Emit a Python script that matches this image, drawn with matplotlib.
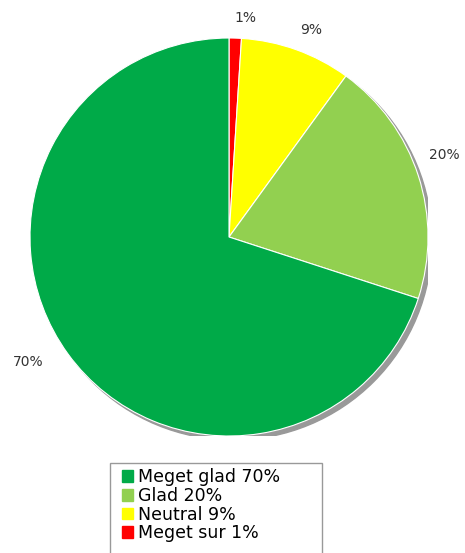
import numpy as np
import matplotlib.pyplot as plt
from matplotlib.patches import Circle, Rectangle
from matplotlib.legend_handler import HandlerPatch

labels = ['Meget glad', 'Glad', 'Neutral', 'Meget sur']
values = [70, 20, 9, 1]
colors = ['#00aa48', '#92d050', '#ffff00', '#ff0000']

fig = plt.figure(figsize=(4.65, 5.53), dpi=100)
ax = fig.add_axes([30 / 465, (553 - 436) / 553, 398 / 465, 398 / 553])

# shadow
ax.add_patch(Circle((0.02, -0.02), 1.0, color='#999999', zorder=0))

# order clockwise from top: red, yellow, light green, dark green
order = [3, 2, 1, 0]
wedges, texts = ax.pie([values[i] for i in order],
                       colors=[colors[i] for i in order],
                       labels=['%d%%' % values[i] for i in order],
                       startangle=90, counterclock=False,
                       wedgeprops=dict(edgecolor='white', linewidth=0.8),
                       textprops=dict(fontsize=10, color='#333333'))
# label placement tweaks (distance, angle shift) to follow the reference
dists = [1.105, 1.12, 1.16, 1.19]
shifts = [-2.6, -1.8, 2.8, -4.1]
for w, t, d, s in zip(wedges, texts, dists, shifts):
    w.set_zorder(1)
    ang = np.deg2rad((w.theta1 + w.theta2) / 2 + s)
    t.set_position((d * np.cos(ang), d * np.sin(ang)))
    t.set_ha('center')
    t.set_va('center')
ax.set_xlim(-1, 1)
ax.set_ylim(-1, 1)
ax.set_aspect('equal')
ax.axis('off')


def square(legend, orig_handle, xdescent, ydescent, width, height, fontsize):
    # square handle pushed to the right end of the handle box
    return Rectangle((-xdescent + width - height, -ydescent), height, height)


handles = [Rectangle((0, 0), 1, 1, color=c) for c in colors]
leg_labels = ['%s %d%%' % (l, v) for l, v in zip(labels, values)]
leg = fig.legend(handles, leg_labels, loc='upper left',
                 bbox_to_anchor=(110 / 465, 1 - 463 / 553 - 0.01, 212 / 465, 0.01),
                 mode='expand',
                 handler_map={Rectangle: HandlerPatch(patch_func=square)},
                 fontsize=12.5, frameon=False,
                 handlelength=1.04, handleheight=0.65,
                 handletextpad=0.27, labelspacing=0.04, borderpad=0.3,
                 borderaxespad=0)

# legend box runs off the bottom edge like in the original
fig.patches.append(Rectangle((110 / 465, -0.02), 212 / 465, (553 - 463) / 553 + 0.02,
                             transform=fig.transFigure, fill=False,
                             edgecolor='#999999', linewidth=1))

fig.savefig('out.png', dpi=100)
